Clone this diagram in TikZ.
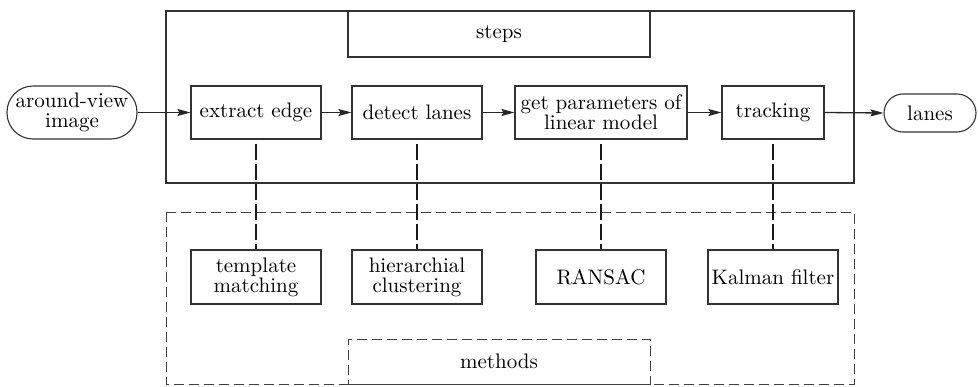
\documentclass[tikz,border=0pt]{standalone}
\usepackage{fontspec}
\setmainfont{lmroman10-regular}[Extension=.otf]
\usetikzlibrary{arrows.meta}
\begin{document}
\begin{tikzpicture}[x=1pt,y=-1pt,
  every node/.style={font=\fontsize{21}{20}\selectfont, align=center, inner sep=0pt},
  frame/.style={draw=black!80, line width=1.1pt},
  stepbox/.style={frame, rectangle, minimum height=53pt},
  termbox/.style={frame, rectangle, rounded corners=26pt, minimum height=53pt},
  dashframe/.style={draw=black!75, line width=1pt, dash pattern=on 10pt off 5pt},
  flow/.style={draw=black!85, line width=1.3pt, -{Stealth[length=13pt,width=7pt,inset=2pt]}},
  link/.style={draw=black!90, line width=1.15pt, dash pattern=on 16pt off 4pt, dash phase=16pt}
]
\useasboundingbox (0,0) rectangle (978,386);

% outer frames
\draw[frame] (166,11) rectangle (854,183);
\node[frame, minimum width=302pt, minimum height=46pt] (steps) at (499,34) {steps};
\draw[dashframe] (166,212) rectangle (854,384);
\node[dashframe, minimum width=302pt, minimum height=45pt] (methods) at (499,361.5) {methods};

% processing steps
\node[termbox, minimum width=130pt] (img) at (72,112.5) {around-view\\image};
\node[stepbox, minimum width=130pt] (edge) at (256,112.5) {extract edge};
\node[stepbox, minimum width=130pt] (detect) at (417,112.5) {detect lanes};
\node[stepbox, minimum width=172pt] (params) at (601,112.5) {get parameters of\\linear model};
\node[stepbox, minimum width=102pt] (track) at (773,112.5) {tracking};
\node[termbox, rounded corners=19pt, minimum width=92pt, minimum height=38pt] (lanes) at (930,113) {lanes};

% methods
\node[stepbox, minimum width=130pt, minimum height=54pt] (templ) at (256,277) {template\\matching};
\node[stepbox, minimum width=130pt, minimum height=54pt] (hier) at (417,277) {hierarchial\\clustering};
\node[stepbox, minimum width=130pt, minimum height=54pt] (ransac) at (601,277) {RANSAC};
\node[stepbox, minimum width=130pt, minimum height=54pt] (kalman) at (773,277) {Kalman filter};

% flow arrows
\draw[flow] (img.east) -- (edge.west);
\draw[flow] (edge.east) -- (detect.west);
\draw[flow] (detect.east) -- (params.west);
\draw[flow] (params.east) -- (track.west);
\draw[flow] (track.east) -- (lanes.west);

% step-to-method links
\draw[link] (edge.south) -- (templ.north);
\draw[link] (detect.south) -- (hier.north);
\draw[link] (params.south) -- (ransac.north);
\draw[link] (track.south) -- (kalman.north);
\end{tikzpicture}
\end{document}
